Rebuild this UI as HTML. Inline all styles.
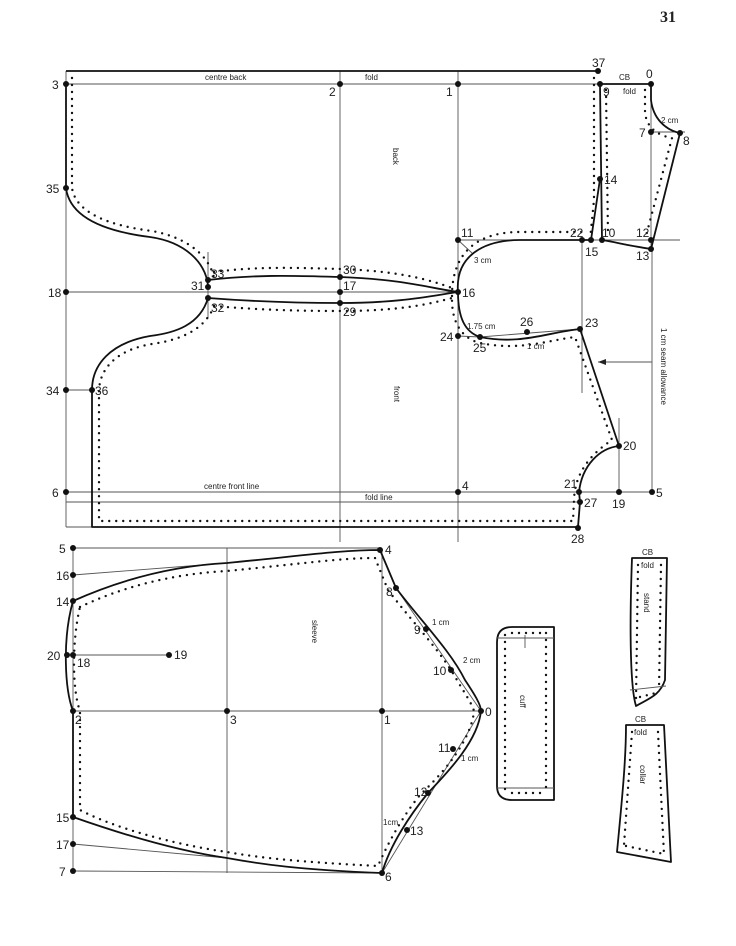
<!DOCTYPE html>
<html><head><meta charset="utf-8"><style>
html,body{margin:0;padding:0;background:#fff;}
svg{display:block;}
text{font-family:"Liberation Sans",sans-serif;fill:#222;}
.n{font-size:12px;}
.s{font-size:8px;}
</style></head><body>
<svg width="736" height="946" viewBox="0 0 736 946" xmlns="http://www.w3.org/2000/svg">
<rect width="736" height="946" fill="#fff"/>
<text x="660" y="22" style="font-family:'Liberation Serif',serif;font-weight:bold;font-size:16px">31</text>

<g stroke="#555" stroke-width="0.9" fill="none">
<line x1="66" y1="84" x2="651" y2="84"/>
<line x1="66" y1="71" x2="66" y2="527"/>
<line x1="340" y1="71" x2="340" y2="542"/>
<line x1="458" y1="71" x2="458" y2="542"/>
<line x1="66" y1="292" x2="458" y2="292"/>
<line x1="458" y1="240" x2="680" y2="240"/>
<line x1="582" y1="240" x2="582" y2="393"/>
<line x1="651" y1="84" x2="651" y2="249"/>
<line x1="652" y1="249" x2="652" y2="492"/>
<line x1="651" y1="132" x2="685" y2="132"/>
<line x1="66" y1="492" x2="652" y2="492"/>
<line x1="66" y1="502" x2="580" y2="502"/>
<line x1="66" y1="527" x2="92" y2="527"/>
<line x1="66" y1="390" x2="92" y2="390"/>
<line x1="458" y1="240" x2="472" y2="253"/>
<line x1="458" y1="336" x2="480" y2="337"/>
<line x1="480" y1="337" x2="580" y2="329"/>
<line x1="619" y1="418" x2="619" y2="492"/>
<line x1="652" y1="362" x2="598" y2="362"/>
<line x1="208" y1="252" x2="208" y2="318"/>
<line x1="73" y1="548" x2="380" y2="548"/>
<line x1="73" y1="548" x2="73" y2="871"/>
<line x1="227" y1="548" x2="227" y2="873"/>
<line x1="382" y1="550" x2="382" y2="873"/>
<line x1="73" y1="711" x2="481" y2="711"/>
<line x1="73" y1="871" x2="382" y2="873"/>
<line x1="73" y1="575" x2="227" y2="563"/>
<line x1="73" y1="844" x2="227" y2="858"/>
<line x1="67" y1="655" x2="169" y2="655"/>
<line x1="396" y1="588" x2="481" y2="711"/>
<line x1="481" y1="711" x2="382" y2="873"/>
</g>
<polygon points="598,362 606,359 606,365" fill="#222"/>

<g stroke="#111" stroke-width="1.8" fill="none" stroke-linejoin="round">
<line x1="66" y1="71" x2="598" y2="71"/>
<path d="M66,84 L66,188 C70,220 110,232 150,237 C185,242 205,262 208,285"/>
<path d="M208,280 C260,274 300,276 340,277 C400,279 430,288 458,292"/>
<path d="M208,298 C260,302 300,303 340,303 C400,303 430,296 458,292"/>
<path d="M458,292 C455,255 485,240 520,240 L591,240"/>
<path d="M591,240 L600,179"/>
<path d="M600,84 L602,240"/>
<path d="M208,298 C200,325 175,333 150,336 C110,343 92,365 92,390 L92,527 L578,527 L580,502 L579,492 C582,465 600,448 619,446 L580,329 C545,333 520,345 480,337 C465,332 458,318 458,292"/>
<path d="M600,84 L651,84 L651,100 C653,118 665,130 680,133 L651,249 C630,246 615,242 602,240"/>
<path d="M73,601 C120,580 170,566 227,563 C300,556 340,550 380,550 L396,588 C420,620 450,650 465,680 C475,695 481,705 481,711 C478,740 450,770 428,793 C410,815 390,845 382,873 C300,870 260,864 227,858 C170,850 110,830 73,817 L73,711 C65,690 62,640 73,601"/>
<path d="M554,627 L512,627 Q497,627 497,642 L497,786 Q497,800 512,800 L554,800 Z"/>
<path d="M632,558 L667,558 L665,680 C660,695 650,698 636,706 C631,690 629,640 632,558 Z"/>
<path d="M626,725 L664,725 L671,862 L617,852 C622,800 626,760 626,725 Z"/>
</g>
<g stroke="#555" stroke-width="0.9">
<line x1="497" y1="638" x2="554" y2="638"/>
<line x1="497" y1="788" x2="554" y2="788"/>
<line x1="525" y1="635" x2="525" y2="648"/>
<line x1="630" y1="690" x2="666" y2="686"/>
</g>

<g stroke="#111" stroke-width="2.4" stroke-linecap="round" stroke-dasharray="0 7" fill="none">
<path d="M72,78 L72,188 C76,214 112,226 152,231 C190,238 210,258 214,278"/>
<path d="M214,272 C260,266 300,268 340,269 C400,271 430,280 452,288"/>
<path d="M214,306 C260,310 300,311 340,311 C400,311 430,304 452,298"/>
<path d="M452,296 C452,250 480,232 520,232 L588,232"/>
<path d="M594,78 L594,200 L590,240"/>
<path d="M606,90 L608,236"/>
<path d="M214,306 C205,330 180,340 152,344 C115,350 99,370 99,392 L99,521 L573,521 L574,500 C575,470 594,452 612,440 L575,337 C545,341 520,351 480,343 C460,338 452,320 452,300"/>
<path d="M645,90 L645,110 C645,125 655,135 672,138 L646,236"/>
<path d="M80,607 C120,588 170,574 227,571 C300,564 340,558 375,558 L388,590 C412,622 442,652 458,682 C468,698 474,708 474,712 C470,742 444,772 420,795 C402,817 387,845 378,866 C300,862 260,858 227,852 C170,844 110,826 80,810 L80,711 C72,690 72,640 80,607"/>
<path d="M505,635 L505,793"/>
<path d="M546,633 L546,793"/>
<path d="M512,633 L546,633"/>
<path d="M512,793 L546,793"/>
<path d="M638,565 L636,700"/>
<path d="M661,565 L659,690"/>
<path d="M640,697 L656,693"/>
<path d="M632,732 L624,845"/>
<path d="M658,732 L664,855"/>
<path d="M626,846 L664,854"/>
</g>

<g fill="#111">
<circle cx="66" cy="84" r="3"/><circle cx="340" cy="84" r="3"/><circle cx="458" cy="84" r="3"/>
<circle cx="600" cy="84" r="3"/><circle cx="598" cy="71" r="3"/><circle cx="651" cy="84" r="3"/>
<circle cx="651" cy="132" r="3"/><circle cx="680" cy="133" r="3"/><circle cx="600" cy="179" r="3"/>
<circle cx="66" cy="188" r="3"/><circle cx="458" cy="240" r="3"/><circle cx="582" cy="240" r="3"/>
<circle cx="591" cy="240" r="3"/><circle cx="602" cy="240" r="3"/><circle cx="651" cy="240" r="3"/>
<circle cx="651" cy="249" r="3"/><circle cx="208" cy="280" r="3"/><circle cx="208" cy="287" r="3"/>
<circle cx="208" cy="298" r="3"/><circle cx="340" cy="277" r="3"/><circle cx="340" cy="292" r="3"/>
<circle cx="340" cy="303" r="3"/><circle cx="458" cy="292" r="3"/><circle cx="66" cy="292" r="3"/>
<circle cx="458" cy="336" r="3"/><circle cx="480" cy="337" r="3"/><circle cx="527" cy="332" r="3"/>
<circle cx="580" cy="329" r="3"/><circle cx="66" cy="390" r="3"/><circle cx="92" cy="390" r="3"/>
<circle cx="619" cy="446" r="3"/><circle cx="66" cy="492" r="3"/><circle cx="458" cy="492" r="3"/>
<circle cx="579" cy="492" r="3"/><circle cx="619" cy="492" r="3"/><circle cx="652" cy="492" r="3"/>
<circle cx="580" cy="502" r="3"/><circle cx="578" cy="528" r="3"/>
<circle cx="73" cy="548" r="3"/><circle cx="380" cy="550" r="3"/><circle cx="73" cy="575" r="3"/>
<circle cx="73" cy="601" r="3"/><circle cx="67" cy="655" r="3"/><circle cx="73" cy="655" r="3"/>
<circle cx="169" cy="655" r="3"/><circle cx="73" cy="711" r="3"/><circle cx="227" cy="711" r="3"/>
<circle cx="382" cy="711" r="3"/><circle cx="481" cy="711" r="3"/><circle cx="73" cy="817" r="3"/>
<circle cx="73" cy="844" r="3"/><circle cx="73" cy="871" r="3"/><circle cx="382" cy="873" r="3"/>
<circle cx="396" cy="588" r="3"/><circle cx="426" cy="629" r="3"/><circle cx="451" cy="670" r="3"/>
<circle cx="453" cy="749" r="3"/><circle cx="428" cy="793" r="3"/><circle cx="407" cy="830" r="3"/>
</g>

<g class="n">
<text x="52" y="89">3</text><text x="329" y="96">2</text><text x="446" y="96">1</text>
<text x="592" y="67">37</text><text x="603" y="96">9</text><text x="646" y="78">0</text>
<text x="639" y="137">7</text><text x="683" y="145">8</text><text x="604" y="184">14</text>
<text x="46" y="193">35</text><text x="461" y="237">11</text><text x="570" y="237">22</text>
<text x="585" y="256">15</text><text x="602" y="237">10</text><text x="636" y="237">12</text>
<text x="636" y="260">13</text><text x="211" y="278">33</text><text x="191" y="290">31</text>
<text x="211" y="312">32</text><text x="343" y="274">30</text><text x="343" y="290">17</text>
<text x="343" y="316">29</text><text x="462" y="297">16</text><text x="48" y="297">18</text>
<text x="440" y="341">24</text><text x="473" y="352">25</text><text x="520" y="326">26</text>
<text x="585" y="327">23</text><text x="46" y="395">34</text><text x="95" y="395">36</text>
<text x="623" y="450">20</text><text x="52" y="497">6</text><text x="462" y="490">4</text>
<text x="564" y="488">21</text><text x="612" y="508">19</text><text x="656" y="497">5</text>
<text x="584" y="507">27</text><text x="571" y="543">28</text>
<text x="59" y="553">5</text><text x="385" y="554">4</text><text x="56" y="580">16</text>
<text x="56" y="606">14</text><text x="47" y="660">20</text><text x="77" y="667">18</text>
<text x="174" y="659">19</text><text x="75" y="724">2</text><text x="230" y="724">3</text>
<text x="384" y="724">1</text><text x="485" y="716">0</text><text x="386" y="596">8</text>
<text x="414" y="634">9</text><text x="433" y="675">10</text><text x="438" y="752">11</text>
<text x="414" y="796">12</text><text x="410" y="835">13</text><text x="56" y="822">15</text>
<text x="56" y="849">17</text><text x="59" y="876">7</text><text x="385" y="881">6</text>
</g>
<g class="s">
<text x="205" y="80">centre back</text><text x="365" y="80">fold</text>
<text x="619" y="80">CB</text><text x="623" y="94">fold</text>
<text x="661" y="123">2 cm</text><text x="474" y="263">3 cm</text>
<text x="467" y="329">1.75 cm</text><text x="527" y="349">1 cm</text>
<text x="204" y="489">centre front line</text><text x="365" y="500">fold line</text>
<text x="432" y="625">1 cm</text><text x="463" y="663">2 cm</text>
<text x="461" y="761">1 cm</text><text x="383" y="825">1cm</text>
<text x="642" y="555">CB</text><text x="641" y="568">fold</text>
<text x="635" y="722">CB</text><text x="634" y="735">fold</text>
<text transform="translate(393,148) rotate(90)">back</text>
<text transform="translate(394,386) rotate(90)">front</text>
<text transform="translate(312,620) rotate(90)">sleeve</text>
<text transform="translate(520,695) rotate(90)">cuff</text>
<text transform="translate(644,593) rotate(90)">stand</text>
<text transform="translate(640,765) rotate(90)">collar</text>
<text transform="translate(661,328) rotate(90)">1 cm seam allowance</text>
</g>
</svg>
</body></html>
